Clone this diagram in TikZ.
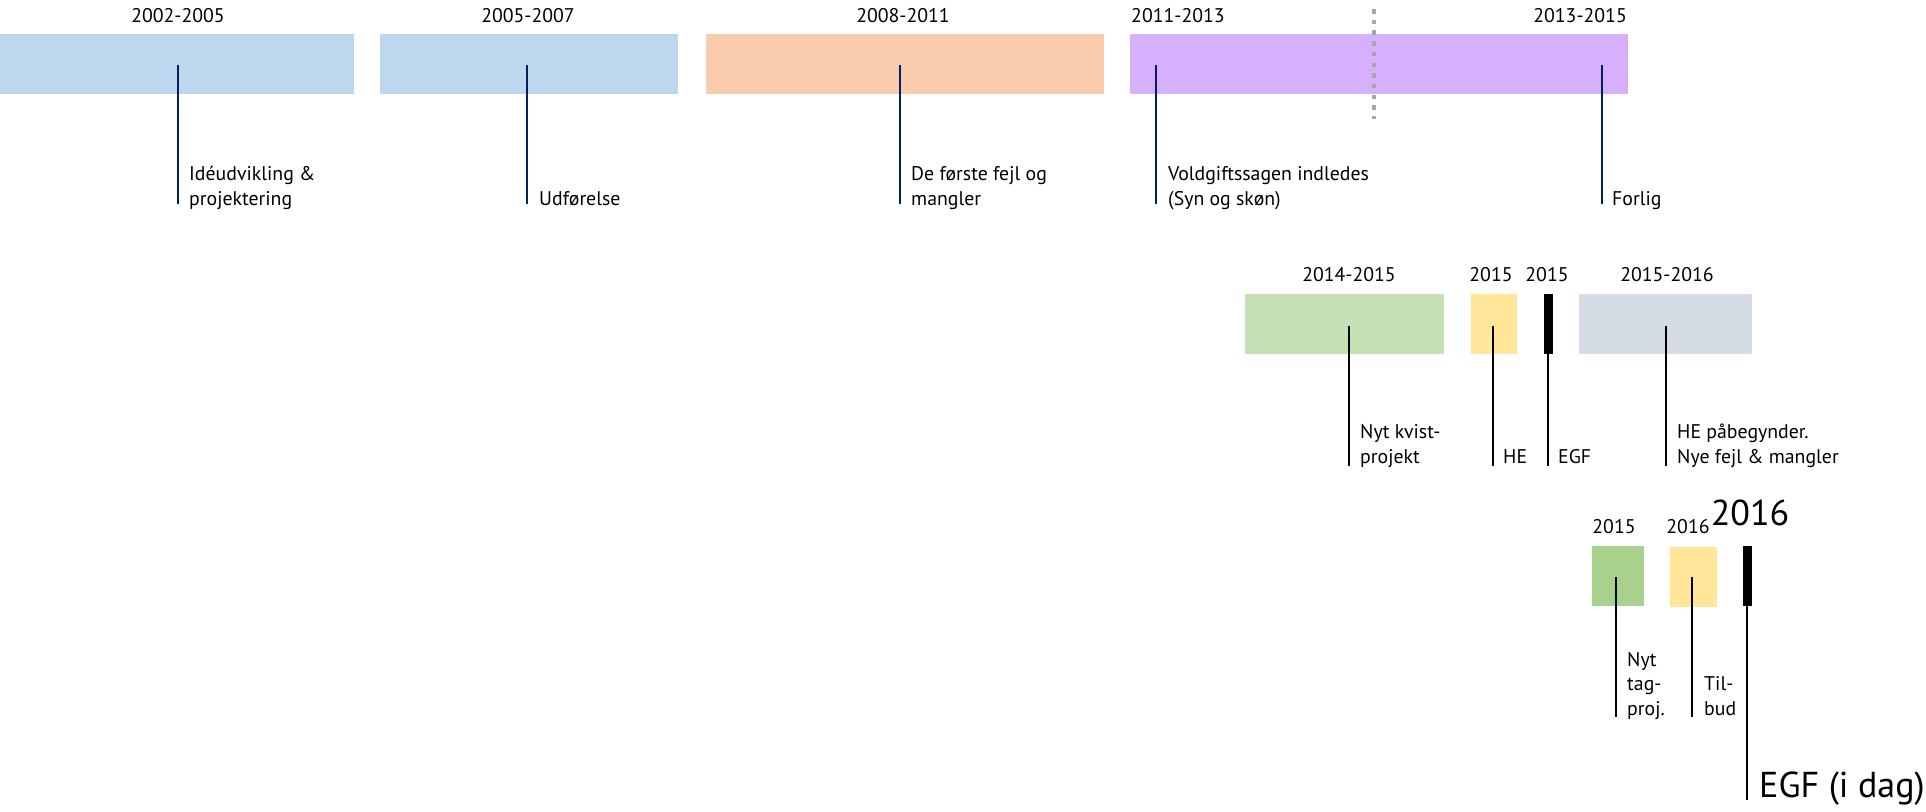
\documentclass[tikz,border=0pt]{standalone}
\usepackage{fontspec}
\setmainfont{PT Sans}
\definecolor{cblue}{HTML}{BDD7EE}
\definecolor{corange}{HTML}{F8CBAD}
\definecolor{cpurple}{HTML}{D6B0FC}
\definecolor{cgreenA}{HTML}{C5E0B4}
\definecolor{cyellow}{HTML}{FFE699}
\definecolor{cgray}{HTML}{D6DCE5}
\definecolor{cgreenB}{HTML}{A9D18E}
\definecolor{cnavy}{HTML}{002060}
\definecolor{cdot}{HTML}{A6A6A6}
\tikzset{
  bar/.style={draw=none,inner sep=0pt,outer sep=0pt,anchor=north west},
  yr/.style={inner sep=0pt,anchor=base,font=\fontsize{19.8}{24.5}\selectfont},
  lbl/.style={inner sep=0pt,anchor=base west,align=left,font=\fontsize{19.8}{24.5}\selectfont},
  big/.style={inner sep=0pt,font=\fontsize{36}{40}\selectfont},
  navyline/.style={draw=cnavy,line width=2.5pt},
  blackline/.style={draw=black,line width=2.5pt},
}
\begin{document}
\begin{tikzpicture}[x=1pt,y=-1pt]
\useasboundingbox (0,0) rectangle (1926,811);
% ---------- row 1 ----------
\node[bar,fill=cblue,minimum width=354pt,minimum height=60pt] (b1) at (0,34) {};
\node[bar,fill=cblue,minimum width=298pt,minimum height=60pt] (b2) at (380,34) {};
\node[bar,fill=corange,minimum width=398pt,minimum height=60pt] (b3) at (706,34) {};
\node[bar,fill=cpurple,minimum width=498pt,minimum height=60pt] (b4) at (1130,34) {};
\coordinate (d1) at (1374,9);
\coordinate (d2) at (1374,119);
\draw[cdot,line width=4.5pt,dash pattern=on 4.5pt off 6.2pt] (d1) -- (d2);

\node[yr] (y1) at (178,22) {2002-2005};
\node[yr] (y2) at (528,22) {2005-2007};
\node[yr] (y3) at (903,22) {2008-2011};
\node[yr,anchor=base west] (y4) at (1131,22) {2011-2013};
\node[yr,anchor=base east] (y5) at (1627,22) {2013-2015};

\node[lbl] (t1) at (189,205) {Idéudvikling \&\\projektering};
\node[lbl] (t2) at (539,205) {Udførelse};
\node[lbl] (t3) at (911,205) {De første fejl og\\mangler};
\node[lbl] (t4) at (1168,205) {Voldgiftssagen indledes\\(Syn og skøn)};
\node[lbl] (t5) at (1612,205) {Forlig};

\foreach \i/\x in {1/178,2/527,3/900,4/1156,5/1602}{
  \coordinate (p\i a) at (\x,65);
  \coordinate (p\i b) at (\x,204);
  \draw[navyline] (p\i a) -- (p\i b);
}
% ---------- row 2 ----------
\node[bar,fill=cgreenA,minimum width=199pt,minimum height=60pt] (c1) at (1245,294) {};
\node[bar,fill=cyellow,minimum width=46pt,minimum height=60pt] (c2) at (1471,294) {};
\node[bar,fill=black,minimum width=9pt,minimum height=60pt] (c3) at (1544,294) {};
\node[bar,fill=cgray,minimum width=173pt,minimum height=60pt] (c4) at (1579,294) {};

\node[yr] (z1) at (1349,281) {2014-2015};
\node[yr] (z2) at (1491,281) {2015};
\node[yr] (z3) at (1547,281) {2015};
\node[yr] (z4) at (1667,281) {2015-2016};

\node[lbl] (u1) at (1360,463) {Nyt kvist-\\projekt};
\node[lbl] (u2) at (1503,463) {HE};
\node[lbl] (u3) at (1558,463) {EGF};
\node[lbl] (u4) at (1677,463) {HE påbegynder.\\Nye fejl \& mangler};

\foreach \i/\x/\s in {1/1349/326,2/1493/326,3/1548/354,4/1666/326}{
  \coordinate (q\i a) at (\x,\s);
  \coordinate (q\i b) at (\x,466);
  \draw[blackline] (q\i a) -- (q\i b);
}
% ---------- row 3 ----------
\node[bar,fill=cgreenB,minimum width=52pt,minimum height=60pt] (e1) at (1592,546) {};
\node[bar,fill=cyellow,minimum width=47pt,minimum height=60pt] (e2) at (1670,547) {};
\node[bar,fill=black,minimum width=9pt,minimum height=60pt] (e3) at (1743,546) {};

\node[yr] (w1) at (1614,533) {2015};
\node[yr] (w2) at (1688,533) {2016};
\node[big,anchor=base] (w3) at (1750,525) {2016};

\node[lbl] (v1) at (1627,715) {Nyt\\tag-\\proj.};
\node[lbl] (v2) at (1704,715) {Til-\\bud};
\node[big,anchor=base west] (v3) at (1759,797) {EGF (i dag)};

\coordinate (r1a) at (1616,577); \coordinate (r1b) at (1616,717);
\coordinate (r2a) at (1692,577); \coordinate (r2b) at (1692,717);
\coordinate (r3a) at (1747,606); \coordinate (r3b) at (1747,800);
\draw[blackline] (r1a) -- (r1b);
\draw[blackline] (r2a) -- (r2b);
\draw[blackline] (r3a) -- (r3b);
\end{tikzpicture}
\end{document}
